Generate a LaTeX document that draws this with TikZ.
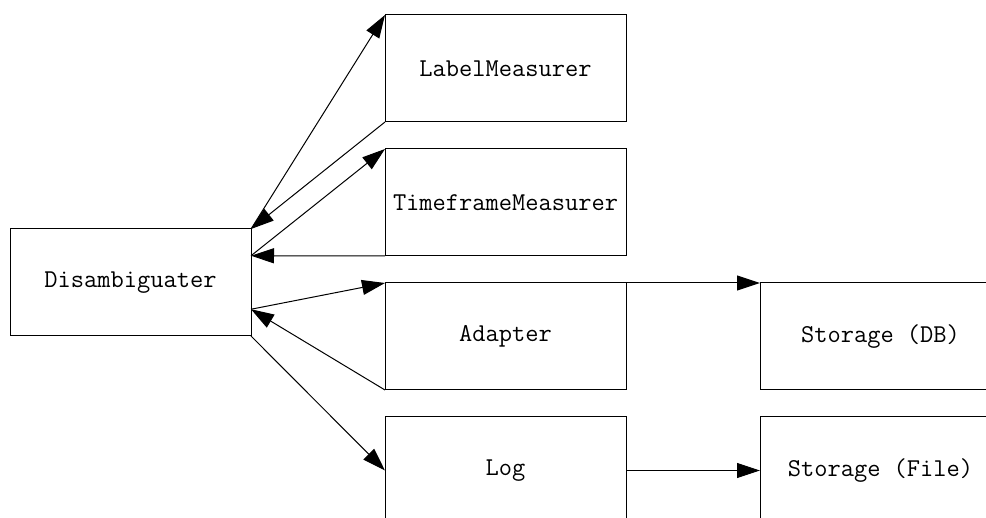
\documentclass[tikz,border=0pt]{standalone}
\usetikzlibrary{arrows.meta,calc}
\begin{document}
\begin{tikzpicture}[x=1pt,y=-1pt,
  box/.style={draw=black,line width=1pt,fill=white,minimum width=241pt,minimum height=107pt,
    inner sep=0pt,outer sep=0pt,anchor=north west,font=\ttfamily\fontsize{25.7}{30}\selectfont},
  conn/.style={draw=black,line width=1pt,-{Triangle[length=23pt,width=15pt]}}]
\useasboundingbox (0,0) rectangle (986,518);
\clip (0,0) rectangle (986,518);
\node[box] (d)   at (10,229)  {Disambiguater};
\node[box] (lm)  at (385,15)  {LabelMeasurer};
\node[box] (tm)  at (385,149) {TimeframeMeasurer};
\node[box] (ad)  at (385,283) {Adapter};
\node[box] (lg)  at (385,417) {Log};
\node[box] (sdb) at (760,283) {Storage (DB)};
\node[box] (sf)  at (760,417) {Storage (File)};
\coordinate (dq) at ($(d.north east)!0.25!(d.south east)$);
\coordinate (dh) at ($(d.north east)!0.75!(d.south east)$);
\draw[conn] (lm.south west) -- (d.north east);
\draw[conn] (d.north east) -- (lm.north west);
\draw[conn] (dq) -- (tm.north west);
\draw[conn] (tm.south west) -- (dq);
\draw[conn] (dh) -- (ad.north west);
\draw[conn] (ad.south west) -- (dh);
\draw[conn] (d.south east) -- (lg.west);
\draw[conn] (ad.north east) -- (sdb.north west);
\draw[conn] (lg.east) -- (sf.west);
\end{tikzpicture}
\end{document}
